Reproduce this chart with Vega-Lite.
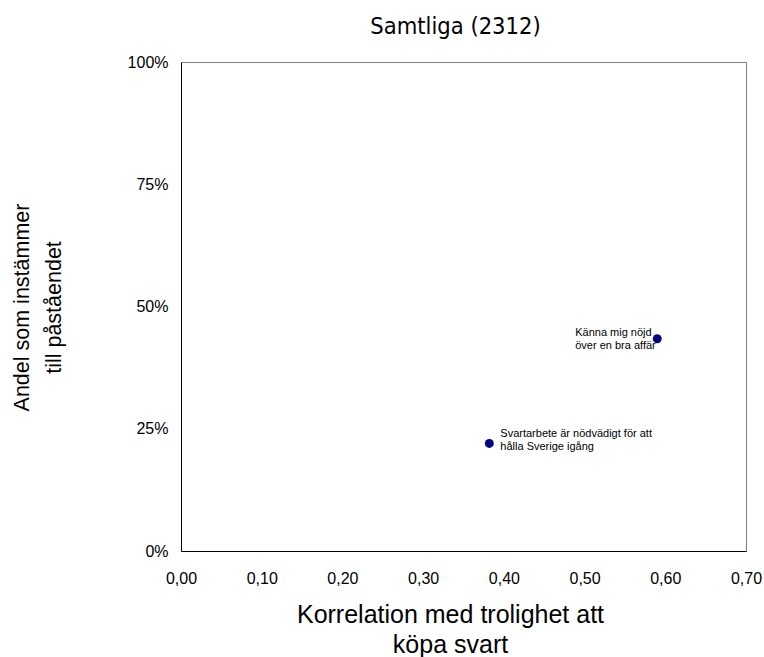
{
  "$schema": "https://vega.github.io/schema/vega-lite/v6.json",
  "width": 565,
  "height": 489,
  "autosize": {"type": "none"},
  "padding": {"left": 181, "top": 62, "right": 18, "bottom": 106},
  "background": "white",
  "title": {
    "text": "Samtliga (2312)",
    "font": "DejaVu Sans Condensed",
    "fontSize": 23.5,
    "fontWeight": "normal",
    "color": "#000000",
    "anchor": "middle",
    "baseline": "alphabetic",
    "dx": -8,
    "offset": -3
  },
  "config": {
    "view": {"stroke": "#808080", "strokeWidth": 1},
    "axis": {
      "grid": false,
      "ticks": false,
      "tickSize": 0,
      "labelFlush": false,
      "domainColor": "#000000",
      "domainWidth": 1,
      "labelFont": "Liberation Sans",
      "labelFontSize": 16,
      "labelColor": "#000000",
      "titleFont": "Liberation Sans",
      "titleFontWeight": "normal",
      "titleColor": "#000000"
    }
  },
  "data": {
    "values": [
      {"korrelation": 0.590, "andel": 0.434, "label": ["Känna mig nöjd", "över en bra affär"], "side": "left"},
      {"korrelation": 0.382, "andel": 0.220, "label": ["Svartarbete är nödvädigt för att", "hålla Sverige igång"], "side": "right"}
    ]
  },
  "encoding": {
    "x": {
      "field": "korrelation",
      "type": "quantitative",
      "scale": {"domain": [0, 0.7], "nice": false, "zero": true},
      "axis": {
        "values": [0, 0.1, 0.2, 0.3, 0.4, 0.5, 0.6, 0.7],
        "labelExpr": "replace(format(datum.value, '.2f'), '.', ',')",
        "labelPadding": 19,
        "title": ["Korrelation med trolighet att", "köpa svart"],
        "titleFontSize": 25,
        "titleLineHeight": 30,
        "titleX": 269,
        "titleY": 71,
        "titleBaseline": "alphabetic",
        "titleAnchor": "middle",
        "titleAlign": "center"
      }
    },
    "y": {
      "field": "andel",
      "type": "quantitative",
      "scale": {"domain": [0, 1], "nice": false},
      "axis": {
        "values": [0, 0.25, 0.5, 0.75, 1],
        "format": ".0%",
        "labelPadding": 13,
        "title": ["Andel som instämmer", "till påståendet"],
        "titleFontSize": 21.5,
        "titleLineHeight": 32,
        "titleX": -153,
        "titleY": 245,
        "titleAngle": -90,
        "titleBaseline": "alphabetic",
        "titleAlign": "center"
      }
    }
  },
  "layer": [
    {
      "mark": {"type": "point", "filled": true, "size": 80, "color": "#000080", "opacity": 1}
    },
    {
      "transform": [{"filter": "datum.side === 'left'"}],
      "mark": {"type": "text", "align": "left", "baseline": "alphabetic", "dx": -82, "dy": -2.5, "font": "Liberation Sans", "fontSize": 11, "lineHeight": 12.5, "color": "#000000"},
      "encoding": {"text": {"field": "label"}}
    },
    {
      "transform": [{"filter": "datum.side === 'right'"}],
      "mark": {"type": "text", "align": "left", "baseline": "alphabetic", "dx": 11, "dy": -6.5, "font": "Liberation Sans", "fontSize": 11, "lineHeight": 13.3, "color": "#000000"},
      "encoding": {"text": {"field": "label"}}
    }
  ]
}
